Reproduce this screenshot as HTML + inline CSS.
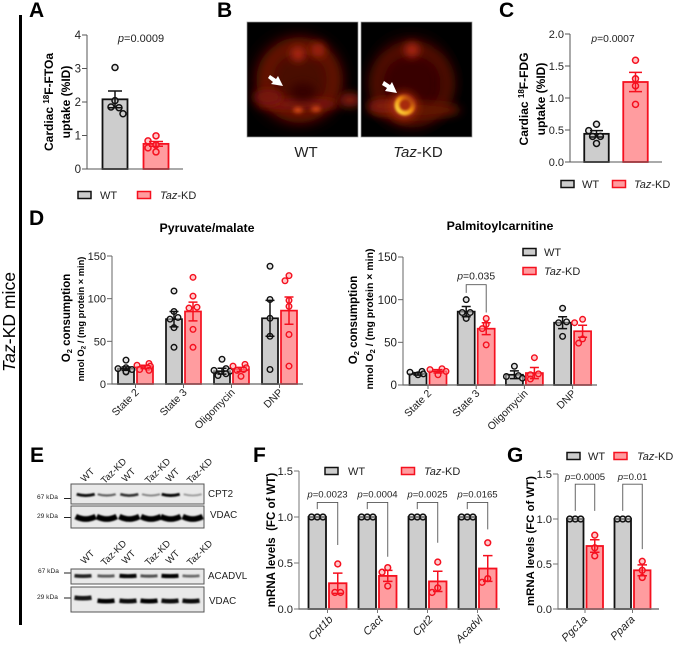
<!DOCTYPE html>
<html lang="en">
<head>
<meta charset="utf-8">
<title>Taz-KD mice cardiac metabolism figure</title>
<style>
html,body{margin:0;padding:0;background:#fff;}
svg{display:block;font-family:"Liberation Sans",Arial,sans-serif;}
text{fill:#222;}
.t{fill:#000;font-weight:bold;}
.l{font-weight:bold;font-size:21px;fill:#000;}
</style>
</head>
<body>
<svg id="fig" xmlns="http://www.w3.org/2000/svg" width="673" height="647" viewBox="0 0 673 647">
<defs>
<filter id="b8" filterUnits="userSpaceOnUse" x="240" y="10" width="240" height="140"><feGaussianBlur stdDeviation="9"/></filter>
<filter id="b6" filterUnits="userSpaceOnUse" x="240" y="10" width="240" height="140"><feGaussianBlur stdDeviation="6"/></filter>
<filter id="b4" filterUnits="userSpaceOnUse" x="240" y="10" width="240" height="140"><feGaussianBlur stdDeviation="4.5"/></filter>
<filter id="b2" filterUnits="userSpaceOnUse" x="240" y="10" width="240" height="140"><feGaussianBlur stdDeviation="2.2"/></filter>
<filter id="b0" filterUnits="userSpaceOnUse" x="240" y="10" width="240" height="140"><feGaussianBlur stdDeviation="1.3"/></filter>
<filter id="b1" filterUnits="userSpaceOnUse" x="60" y="470" width="160" height="150"><feGaussianBlur stdDeviation="0.9"/></filter>
<clipPath id="c1"><rect x="247" y="22" width="111" height="115"/></clipPath>
<clipPath id="c2"><rect x="361" y="22" width="111" height="115"/></clipPath>
<linearGradient id="hot" x1="0" y1="1" x2="1" y2="0"><stop offset="0" stop-color="#ffe040"/><stop offset="0.55" stop-color="#f08a10"/><stop offset="1" stop-color="#901c06"/></linearGradient>
</defs>

<rect x="19" y="15" width="3" height="610" fill="#000"/>
<text transform="translate(15,372) rotate(-90)" font-size="17.6" style="fill:#000"><tspan font-style="italic">Taz</tspan>-KD mice</text>

<text class="l" x="29" y="17">A</text>
<text class="l" x="217" y="17">B</text>
<text class="l" x="499" y="17">C</text>
<text class="l" x="29" y="225">D</text>
<text class="l" x="30" y="462">E</text>
<text class="l" x="253" y="462">F</text>
<text class="l" x="507" y="462">G</text>

<!-- B PET images -->
<g clip-path="url(#c1)">
<rect x="247" y="22" width="111" height="115" fill="#000"/>
<ellipse cx="298" cy="80" rx="42" ry="42" fill="#4a0900" filter="url(#b8)"/>
<circle cx="300" cy="80" r="35" fill="none" stroke="#7c1606" stroke-width="9" filter="url(#b6)"/>
<ellipse cx="298" cy="104" rx="42" ry="6" fill="#7c180a" filter="url(#b4)"/>
<ellipse cx="350" cy="100" rx="11" ry="7" fill="#851b08" filter="url(#b4)"/>
<ellipse cx="268" cy="97" rx="15" ry="8" fill="#771708" filter="url(#b4)"/>
<circle cx="298" cy="54" r="7" fill="#b82c12" filter="url(#b4)"/>
<circle cx="318" cy="50" r="7" fill="#a8280f" filter="url(#b4)"/>
<ellipse cx="298" cy="110" rx="5" ry="3" fill="#d64a14" filter="url(#b2)"/>
<ellipse cx="316" cy="109" rx="5" ry="3" fill="#cc4414" filter="url(#b2)"/>
<ellipse cx="303" cy="92" rx="13" ry="9" fill="#360603" filter="url(#b4)"/>
<path d="M270,75 L276,79 L278,76 L283,86 L271,84 L273,82 L268,78 Z" fill="#fff"/>
</g>
<rect x="247" y="22" width="111" height="115" fill="none" stroke="#999" stroke-width="0.7"/>
<g clip-path="url(#c2)">
<rect x="361" y="22" width="111" height="115" fill="#000"/>
<ellipse cx="411" cy="82" rx="38" ry="42" fill="#380600" filter="url(#b8)"/>
<circle cx="412" cy="84" r="36" fill="none" stroke="#6e1405" stroke-width="8" filter="url(#b6)"/>
<ellipse cx="415" cy="110" rx="46" ry="8" fill="#621205" filter="url(#b4)"/>
<ellipse cx="385" cy="106" rx="18" ry="7" fill="#821b08" filter="url(#b4)"/>
<circle cx="412" cy="50" r="7" fill="#b82c12" filter="url(#b4)"/>
<circle cx="404" cy="106" r="14" fill="#a82a0e" filter="url(#b4)"/>
<circle cx="405" cy="105" r="8" fill="none" stroke="url(#hot)" stroke-width="5" filter="url(#b0)"/>
<path d="M384,81 L390,85 L392,82 L397,93 L385,91 L387,88 L382,85 Z" fill="#fff"/>
</g>
<rect x="361" y="22" width="111" height="115" fill="none" stroke="#999" stroke-width="0.7"/>
<text x="306" y="157" font-size="15" text-anchor="middle">WT</text>
<text x="418" y="157" font-size="15" text-anchor="middle"><tspan font-style="italic">Taz</tspan>-KD</text>

<!-- Axis titles -->
<text class="t" transform="translate(53,102) rotate(-90)" font-size="12" text-anchor="middle">Cardiac <tspan font-size="8" dy="-4">18</tspan><tspan dy="4">F-FTOa</tspan></text>
<text class="t" transform="translate(70,102) rotate(-90)" font-size="12" text-anchor="middle">uptake (%ID)</text>
<text class="t" transform="translate(528,99) rotate(-90)" font-size="12" text-anchor="middle">Cardiac <tspan font-size="8" dy="-4">18</tspan><tspan dy="4">F-FDG</tspan></text>
<text class="t" transform="translate(545,99) rotate(-90)" font-size="12" text-anchor="middle">uptake (%ID)</text>
<text class="t" x="207" y="232" font-size="12.4" text-anchor="middle">Pyruvate/malate</text>
<text class="t" x="500" y="230" font-size="12.4" text-anchor="middle">Palmitoylcarnitine</text>
<text class="t" transform="translate(70,318) rotate(-90)" font-size="11.5" text-anchor="middle">O<tspan font-size="7.5" dy="2">2</tspan><tspan dy="-2"> consumption</tspan></text>
<text class="t" transform="translate(84,319) rotate(-90)" font-size="9.3" text-anchor="middle">nmol O<tspan font-size="6.5" dy="1.5">2</tspan><tspan dy="-1.5"> / (mg protein × min)</tspan></text>
<text class="t" transform="translate(357,320) rotate(-90)" font-size="11.5" text-anchor="middle">O<tspan font-size="7.5" dy="2">2</tspan><tspan dy="-2"> consumption</tspan></text>
<text class="t" transform="translate(373,319) rotate(-90)" font-size="10.5" text-anchor="middle">nmol O<tspan font-size="7.5" dy="2">2</tspan><tspan dy="-2"> / (mg protein × min)</tspan></text>
<text class="t" transform="translate(275,540) rotate(-90)" font-size="11.5" text-anchor="middle" xml:space="preserve">mRNA levels  (FC of WT)</text>
<text class="t" transform="translate(534,541) rotate(-90)" font-size="11.4" text-anchor="middle">mRNA levels (FC of WT)</text>

<!-- E blots -->
<g id="blots">
<text x="37" y="499" font-size="6.6">67 kDa</text>
<text x="37" y="518" font-size="6.6">29 kDa</text>
<text x="38" y="573" font-size="6.6">67 kDa</text>
<text x="37" y="599" font-size="6.6">29 kDa</text>
<path d="M64,498.5H71M64,517.5H71M64,573H71M64,598H71" stroke="#222" stroke-width="1"/>
<text x="208" y="497" font-size="9.8">CPT2</text>
<text x="210" y="518" font-size="9.8">VDAC</text>
<text x="208" y="579" font-size="9.8">ACADVL</text>
<text x="209" y="604" font-size="9.8">VDAC</text>
</g>
<g id="charts"></g>

<script>
// ---------- Panel A ----------
const aCategories = [""];
const aTickValues = [0, 1, 2, 3, 4];
const aTickLabels = ["0", "1", "2", "3", "4"];
const aWtMeans = [2.08];
const aWtSems = [0.25];
const aWtPoints = [[3.03, 2.04, 1.85, 1.83, 1.65]];
const aKdMeans = [0.75];
const aKdSems = [0.07];
const aKdPoints = [[0.99, 0.84, 0.72, 0.63, 0.51]];
// ---------- Panel C ----------
const cCategories = [""];
const cTickValues = [0, 0.5, 1, 1.5, 2];
const cTickLabels = ["0.0", "0.5", "1.0", "1.5", "2.0"];
const cWtMeans = [0.44];
const cWtSems = [0.05];
const cWtPoints = [[0.59, 0.49, 0.40, 0.40, 0.29]];
const cKdMeans = [1.25];
const cKdSems = [0.15];
const cKdPoints = [[1.59, 1.30, 1.19, 0.90]];
// ---------- Panel D ----------
const dCategories = ["State 2", "State 3", "Oligomycin", "DNP"];
const dTickValues = [0, 50, 100, 150];
const dTickLabels = ["0", "50", "100", "150"];
const pyrWtMeans = [18, 76, 15, 77];
const pyrWtSems = [2, 9, 3.5, 21];
const pyrWtPoints = [[28, 19, 18, 17, 15, 14], [109, 85, 78, 76, 66, 43], [29, 18, 16, 15, 12, 10], [138, 99, 77, 56, 17]];
const pyrKdMeans = [20, 85, 17, 86];
const pyrKdSems = [2, 11, 2.5, 16];
const pyrKdPoints = [[24, 22, 21, 19, 17, 16], [125, 103, 90, 89, 64, 43], [23, 21, 19, 17, 16, 9], [127, 121, 98, 91, 58, 21]];
const palWtMeans = [13, 86, 12, 73];
const palWtSems = [1.5, 6, 4.5, 7];
const palWtPoints = [[16, 15, 13, 12], [100, 85, 85, 78], [22, 11, 10, 8], [90, 74, 73, 57]];
const palKdMeans = [16, 66, 14, 63];
const palKdSems = [2, 7, 6.5, 7];
const palKdPoints = [[19, 18, 16, 12], [78, 71, 66, 47], [32, 13, 12, 7], [77, 73, 54, 49]];
const palPValues = [null, "=0.035", null, null];
const palBracketTops = [null, 117.6, null, null];
const palBracketLeftEnds = [null, 108, null, null];
const palBracketRightEnds = [null, 85, null, null];
// ---------- Panel F ----------
const fCategories = ["Cpt1b", "Cact", "Cpt2", "Acadvl"];
const fTickValues = [0, 0.5, 1, 1.5];
const fTickLabels = ["0.0", "0.5", "1.0", "1.5"];
const fWtMeans = [1, 1, 1, 1];
const fWtSems = [0, 0, 0, 0];
const fWtPoints = [[1, 1, 1], [1, 1, 1], [1, 1, 1], [1, 1, 1]];
const fKdMeans = [0.28, 0.36, 0.30, 0.44];
const fKdSems = [0.11, 0.06, 0.11, 0.14];
const fKdPoints = [[0.49, 0.18, 0.18], [0.45, 0.40, 0.25], [0.51, 0.23, 0.18], [0.72, 0.33, 0.29]];
const fPValues = ["=0.0023", "=0.0004", "=0.0025", "=0.0165"];
const fBracketTops = [1.158, 1.158, 1.158, 1.158];
const fBracketLeftEnds = [1.085, 1.085, 1.085, 1.085];
const fBracketRightEnds = [0.695, 0.568, 0.72, 0.866];
// ---------- Panel G ----------
const gCategories = ["Pgc1a", "Ppara"];
const gTickValues = [0, 0.5, 1, 1.5];
const gTickLabels = ["0.0", "0.5", "1.0", "1.5"];
const gWtMeans = [1, 1];
const gWtSems = [0, 0];
const gWtPoints = [[1, 1, 1], [1, 1, 1]];
const gKdMeans = [0.70, 0.43];
const gKdSems = [0.07, 0.06];
const gKdPoints = [[0.82, 0.68, 0.59], [0.53, 0.43, 0.35]];
const gPValues = ["=0.0005", "=0.01"];
const gBracketTops = [1.387, 1.387];
const gBracketLeftEnds = [1.09, 1.09];
const gBracketRightEnds = [1.09, 0.665];

const NS = "http://www.w3.org/2000/svg";
const root = document.getElementById("charts");
const WT = { stroke: "#111", fill: "#cdcdcd" };
const KD = { stroke: "#f5101f", fill: "#ff9c9f" };

function mark(parent, tag, attrs, name, text) {
  const el = document.createElementNS(NS, tag);
  for (const k in attrs) el.setAttribute(k, attrs[k]);
  
  
  if (text !== undefined) el.textContent = text;
  parent.appendChild(el);
  return el;
}

function swarm(values, toY, step, minDist) {
  const placed = [];
  values.forEach(function (v) {
    const y = toY(v);
    let off = 0;
    for (let i = 0; i < 5; i++) {
      const k = i === 0 ? 0 : (i % 2 ? -(i + 1) / 2 : i / 2);
      off = k * step;
      const o = off;
      if (!placed.some(function (p) { return Math.hypot(p.off - o, p.y - y) < minDist; })) break;
    }
    placed.push({ off: off, y: y });
  });
  // centre rows of two or more near-equal points on the bar; lone points keep their offset
  placed.forEach(function (p) {
    const row = placed.filter(function (q) { return Math.abs(q.y - p.y) < 2.5; });
    p.shift = row.length < 2 ? 0 : row.reduce(function (s, q) { return s + q.off; }, 0) / row.length;
  });
  placed.forEach(function (p) { p.off -= p.shift; });
  return placed;
}

function drawGroup(g, cx, mean, sem, pts, style, y, o, series) {
  const top = y(mean);
  mark(g, "rect", { x: cx - o.barW / 2, y: top, width: o.barW, height: y(0) - top, fill: style.fill, stroke: style.stroke, "stroke-width": o.barSW }, "bar-" + series);
  swarm(pts, y, o.step, o.minDist).forEach(function (p) {
    mark(g, "circle", { cx: cx + p.off, cy: p.y, r: o.r, fill: style.fill, "fill-opacity": 0.55, stroke: style.stroke, "stroke-width": o.ptSW }, "point-" + series);
  });
  if (sem > 0) {
    const yt = y(mean + sem), yb = y(mean - sem), c = o.cap / 2;
    mark(g, "path", { d: "M" + cx + "," + yt + "V" + yb + "M" + (cx - c) + "," + yt + "H" + (cx + c) + "M" + (cx - c) + "," + yb + "H" + (cx + c), stroke: style.stroke, "stroke-width": 1.5, fill: "none" }, "error-bar-" + series);
  }
}

function pLabel(g, x, y, value, size, name) {
  const t = mark(g, "text", { x: x, y: y, "font-size": size, "text-anchor": "middle" }, name);
  const i = document.createElementNS(NS, "tspan");
  i.setAttribute("font-style", "italic");
  i.textContent = "p";
  t.appendChild(i);
  t.appendChild(document.createTextNode(value));
}

function drawChart(o) {
  const g = mark(root, "g", {}, o.name);
  const y = function (v) { return o.y0 - (v / o.yMax) * (o.y0 - o.yTop); };
  o.cats.forEach(function (cat, i) {
    const c = o.firstCenter + i * o.spacing;
    const dx = (o.barW + o.gap) / 2;
    drawGroup(g, c - dx, o.wtMeans[i], o.wtSems[i], o.wtPts[i], WT, y, o, "wt-" + o.name + "-" + i);
    drawGroup(g, c + dx, o.kdMeans[i], o.kdSems[i], o.kdPts[i], KD, y, o, "taz-kd-" + o.name + "-" + i);
    if (cat) {
      mark(g, "line", { x1: c, x2: c, y1: o.y0, y2: o.y0 + 4, stroke: o.axis, "stroke-width": 1 }, "x-tick");
      mark(g, "text", { transform: "translate(" + (c + o.labDx) + "," + (o.y0 + o.labDy) + ") rotate(-45)", "font-size": o.labSize, "text-anchor": "end", "font-style": o.labItalic ? "italic" : "normal" }, "x-label", cat);
    }
    if (o.pVals && o.pVals[i]) {
      const lx = c - dx, rx = c + dx, ty = y(o.tops[i]);
      mark(g, "path", { d: "M" + lx + "," + y(o.leftEnds[i]) + "V" + ty + "H" + rx + "V" + y(o.rightEnds[i]), fill: "none", stroke: "#555", "stroke-width": 0.9 }, "significance-bracket");
      pLabel(g, c, ty - o.pGap, o.pVals[i], o.pSize, "p-value-label");
    }
  });
  mark(g, "line", { x1: o.x0, x2: o.x0, y1: o.yTop, y2: o.y0, stroke: o.axis, "stroke-width": 1 }, "y-axis");
  mark(g, "line", { x1: o.x0 - 0.5, x2: o.xEnd, y1: o.y0, y2: o.y0, stroke: o.axis, "stroke-width": o.xSW }, "x-axis");
  o.ticks.forEach(function (v, i) {
    mark(g, "line", { x1: o.x0 - 5, x2: o.x0, y1: y(v), y2: y(v), stroke: o.axis, "stroke-width": 1 }, "y-tick");
    mark(g, "text", { x: o.x0 - 6, y: y(v) + o.tickSize * 0.36, "font-size": o.tickSize, "text-anchor": "end" }, "y-tick-label", o.tickLabels[i]);
  });
}

function legend(swX, wtY, kdSwX, kdY, size, wtTextX, kdTextX) {
  const g = mark(root, "g", {}, "legend");
  mark(g, "rect", { x: swX, y: wtY - 3.5, width: 13, height: 7, fill: WT.fill, stroke: WT.stroke, "stroke-width": 1.5 }, "legend-swatch-wt");
  mark(g, "text", { x: wtTextX, y: wtY + size * 0.36, "font-size": size }, "legend-label-wt", "WT");
  mark(g, "rect", { x: kdSwX, y: kdY - 3.5, width: 13, height: 7, fill: KD.fill, stroke: KD.stroke, "stroke-width": 1.5 }, "legend-swatch-taz-kd");
  const t = mark(g, "text", { x: kdTextX, y: kdY + size * 0.36, "font-size": size }, "legend-label-taz-kd");
  const i = document.createElementNS(NS, "tspan");
  i.setAttribute("font-style", "italic");
  i.textContent = "Taz";
  t.appendChild(i);
  t.appendChild(document.createTextNode("-KD"));
}

drawChart({ name: "panel-a", cats: aCategories, ticks: aTickValues, tickLabels: aTickLabels, wtMeans: aWtMeans, wtSems: aWtSems, wtPts: aWtPoints, kdMeans: aKdMeans, kdSems: aKdSems, kdPts: aKdPoints,
  x0: 87, xEnd: 183, y0: 169, yTop: 35, yMax: 4, firstCenter: 135.5, spacing: 0, barW: 25, gap: 16, barSW: 1.8, step: 8, minDist: 7, r: 3, ptSW: 1.5, cap: 14, axis: "#555", xSW: 1, tickSize: 11.5 });
drawChart({ name: "panel-c", cats: cCategories, ticks: cTickValues, tickLabels: cTickLabels, wtMeans: cWtMeans, wtSems: cWtSems, wtPts: cWtPoints, kdMeans: cKdMeans, kdSems: cKdSems, kdPts: cKdPoints,
  x0: 570, xEnd: 662, y0: 162, yTop: 34, yMax: 2, firstCenter: 616, spacing: 0, barW: 24.5, gap: 14.5, barSW: 1.8, step: 7.8, minDist: 7, r: 3, ptSW: 1.5, cap: 13, axis: "#555", xSW: 1, tickSize: 11 });
drawChart({ name: "pyruvate", cats: dCategories, ticks: dTickValues, tickLabels: dTickLabels, wtMeans: pyrWtMeans, wtSems: pyrWtSems, wtPts: pyrWtPoints, kdMeans: pyrKdMeans, kdSems: pyrKdSems, kdPts: pyrKdPoints,
  x0: 112, xEnd: 303, y0: 384, yTop: 256, yMax: 150, firstCenter: 135.5, spacing: 48, barW: 16, gap: 3, barSW: 1.7, step: 4, minDist: 5.5, r: 2.8, ptSW: 1.4, cap: 9, axis: "#666", xSW: 1.3, tickSize: 11, labDx: 4, labDy: 9, labSize: 10.5 });
drawChart({ name: "palmitoyl", cats: dCategories, ticks: dTickValues, tickLabels: dTickLabels, wtMeans: palWtMeans, wtSems: palWtSems, wtPts: palWtPoints, kdMeans: palKdMeans, kdSems: palKdSems, kdPts: palKdPoints,
  x0: 403, xEnd: 597, y0: 385, yTop: 257, yMax: 150, firstCenter: 428, spacing: 48.2, barW: 17, gap: 3, barSW: 1.7, step: 4, minDist: 5.5, r: 2.8, ptSW: 1.4, cap: 9, axis: "#666", xSW: 1.3, tickSize: 11.6, labDx: 4, labDy: 9, labSize: 10.5,
  pVals: palPValues, tops: palBracketTops, leftEnds: palBracketLeftEnds, rightEnds: palBracketRightEnds, pGap: 5, pSize: 10.4 });
drawChart({ name: "panel-f", cats: fCategories, ticks: fTickValues, tickLabels: fTickLabels, wtMeans: fWtMeans, wtSems: fWtSems, wtPts: fWtPoints, kdMeans: fKdMeans, kdSems: fKdSems, kdPts: fKdPoints,
  x0: 299, xEnd: 500, y0: 609, yTop: 471, yMax: 1.5, firstCenter: 327.5, spacing: 50, barW: 17.5, gap: 3, barSW: 1.8, step: 5.7, minDist: 5.5, r: 2.9, ptSW: 1.5, cap: 9.5, axis: "#777", xSW: 1.6, tickSize: 11.2, labDx: 6, labDy: 11, labSize: 11, labItalic: true,
  pVals: fPValues, tops: fBracketTops, leftEnds: fBracketLeftEnds, rightEnds: fBracketRightEnds, pGap: 5, pSize: 9.6 });
drawChart({ name: "panel-g", cats: gCategories, ticks: gTickValues, tickLabels: gTickLabels, wtMeans: gWtMeans, wtSems: gWtSems, wtPts: gWtPoints, kdMeans: gKdMeans, kdSems: gKdSems, kdPts: gKdPoints,
  x0: 558, xEnd: 659, y0: 609, yTop: 474, yMax: 1.5, firstCenter: 585, spacing: 47.5, barW: 16.5, gap: 3, barSW: 1.8, step: 5.5, minDist: 5.3, r: 2.9, ptSW: 1.5, cap: 9.5, axis: "#777", xSW: 1.6, tickSize: 11.2, labDx: 3, labDy: 11, labSize: 11, labItalic: true,
  pVals: gPValues, tops: gBracketTops, leftEnds: gBracketLeftEnds, rightEnds: gBracketRightEnds, pGap: 4, pSize: 9.6 });

pLabel(root, 141, 42, "=0.0009", 11, "panel-a-p-value");
pLabel(root, 613, 42, "=0.0007", 10.3, "panel-c-p-value");

legend(78, 195, 137.5, 195, 11, 100, 160);
legend(561, 184, 612.5, 184, 11, 582, 634);
legend(523, 252, 523, 271, 11, 544, 544);
legend(325, 471, 401.5, 471, 11, 348, 424);
legend(567, 456, 614, 456, 11, 588, 637);

// ---------- Panel E blots (image-like, not chart data) ----------
const blotGroup = document.getElementById("blots");
const laneCentersTop = [85.7, 106.7, 129.3, 151, 170.7, 192.7];
const laneCentersBottom = [83, 106, 128, 149, 170, 191];
const cpt2Shades = [0.95, 0.6, 0.8, 0.45, 0.98, 0.35];
const vdacTopShades = [1, 1, 1, 1, 1, 1];
const acadvlShades = [0.85, 0.6, 0.98, 0.65, 1, 0.55];
const vdacBottomShades = [0.9, 1, 0.95, 1, 0.95, 0.95];

function blotBox(x, y, w, h, name) {
  mark(blotGroup, "rect", { x: x, y: y, width: w, height: h, fill: "#e9e9e9", stroke: "#555", "stroke-width": 1 }, name);
}
function smile(cx, cy, w, depth, sw, shade) {
  mark(blotGroup, "path", { d: "M" + (cx - w / 2) + "," + (cy - depth / 2) + "Q" + cx + "," + (cy + depth * 1.2) + " " + (cx + w / 2) + "," + (cy - depth / 2), fill: "none", stroke: "#000", "stroke-opacity": shade, "stroke-width": sw, filter: "url(#b1)" }, "blot-band");
}
blotBox(71, 484, 133, 20, "blot-cpt2");
blotBox(71, 506, 133, 22, "blot-vdac-top");
blotBox(71, 569, 133, 15, "blot-acadvl");
blotBox(71, 587, 133, 25, "blot-vdac-bottom");
laneCentersTop.forEach(function (c, i) {
  smile(c, 495, 18, 1.5, 1 + 2 * cpt2Shades[i], cpt2Shades[i]);
  smile(c, 518, 20, 3, 5.5, vdacTopShades[i]);
});
laneCentersBottom.forEach(function (c, i) {
  smile(c, 576, 17, 0.5, 1.5 + 2.5 * acadvlShades[i], acadvlShades[i]);
  smile(c, i === 0 ? 598 : 601, 17, 0.8, 4.5, vdacBottomShades[i]);
});
const blotLaneLabels = ["WT", "Taz-KD", "WT", "Taz-KD", "WT", "Taz-KD"];
const laneLabelEnds = [95, 127, 136, 171, 180, 213];
blotLaneLabels.forEach(function (label, i) {
  const dy = label === "WT" ? 0 : -10;
  mark(blotGroup, "text", { transform: "translate(" + laneLabelEnds[i] + "," + (472 + dy) + ") rotate(-45)", "font-size": 9.6, "text-anchor": "end" }, "blot-lane-label-top", label);
  mark(blotGroup, "text", { transform: "translate(" + laneLabelEnds[i] + "," + (554 + dy) + ") rotate(-45)", "font-size": 9.6, "text-anchor": "end" }, "blot-lane-label-bottom", label);
});
</script>
</svg>
</body>
</html>
